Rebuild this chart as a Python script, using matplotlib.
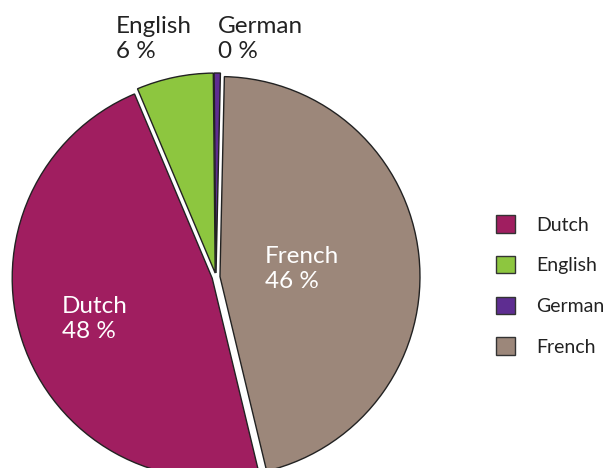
import matplotlib.pyplot as plt
from matplotlib.patches import Patch

languages = ['Dutch', 'English', 'German', 'French']
shares = [47.4, 6.2, 0.5, 45.9]
pct_labels = ['48 %', '6 %', '0 %', '46 %']
colors = ['#A01E60', '#8DC63F', '#5E2D91', '#9C877A']

plt.rcParams['font.family'] = ['Lato', 'DejaVu Sans']

fig = plt.figure(figsize=(6.13, 4.68), dpi=100)
ax = fig.add_axes([0, 0, 1, 1])

wedges, _ = ax.pie(shares, colors=colors, startangle=-76.5, counterclock=False,
                   explode=[0.02, 0.02, 0.02, 0.02],
                   wedgeprops=dict(edgecolor='#222222', linewidth=1.0))

# axes limits so that 1 unit ~ 200 px, centre at (216, 277) px from top-left
ax.set_xlim(-216 / 200, (613 - 216) / 200)
ax.set_ylim(-(468 - 277) / 200, 277 / 200)
ax.set_aspect('auto')
ax.axis('off')

# labels
lab = dict(fontsize=17.5, ha='left', va='center', linespacing=1.2)
ax.text(-0.50, 1.19, languages[1] + '\n' + pct_labels[1], color='#222222', **lab)
ax.text(0.01, 1.19, languages[2] + '\n' + pct_labels[2], color='#222222', **lab)
ax.text(-0.77, -0.21, languages[0] + '\n' + pct_labels[0], color='white', **lab)
ax.text(0.245, 0.04, languages[3] + '\n' + pct_labels[3], color='white', **lab)

handles = [Patch(facecolor=c, edgecolor='#333333', linewidth=1.0) for c in colors]
fig.legend(handles, languages, loc='center left', bbox_to_anchor=(0.78, 0.39),
           frameon=False, fontsize=14, handlelength=1.0, handleheight=1.0,
           labelspacing=1.15, handletextpad=1.1, labelcolor='#222222')

fig.savefig('out.png', dpi=100)
